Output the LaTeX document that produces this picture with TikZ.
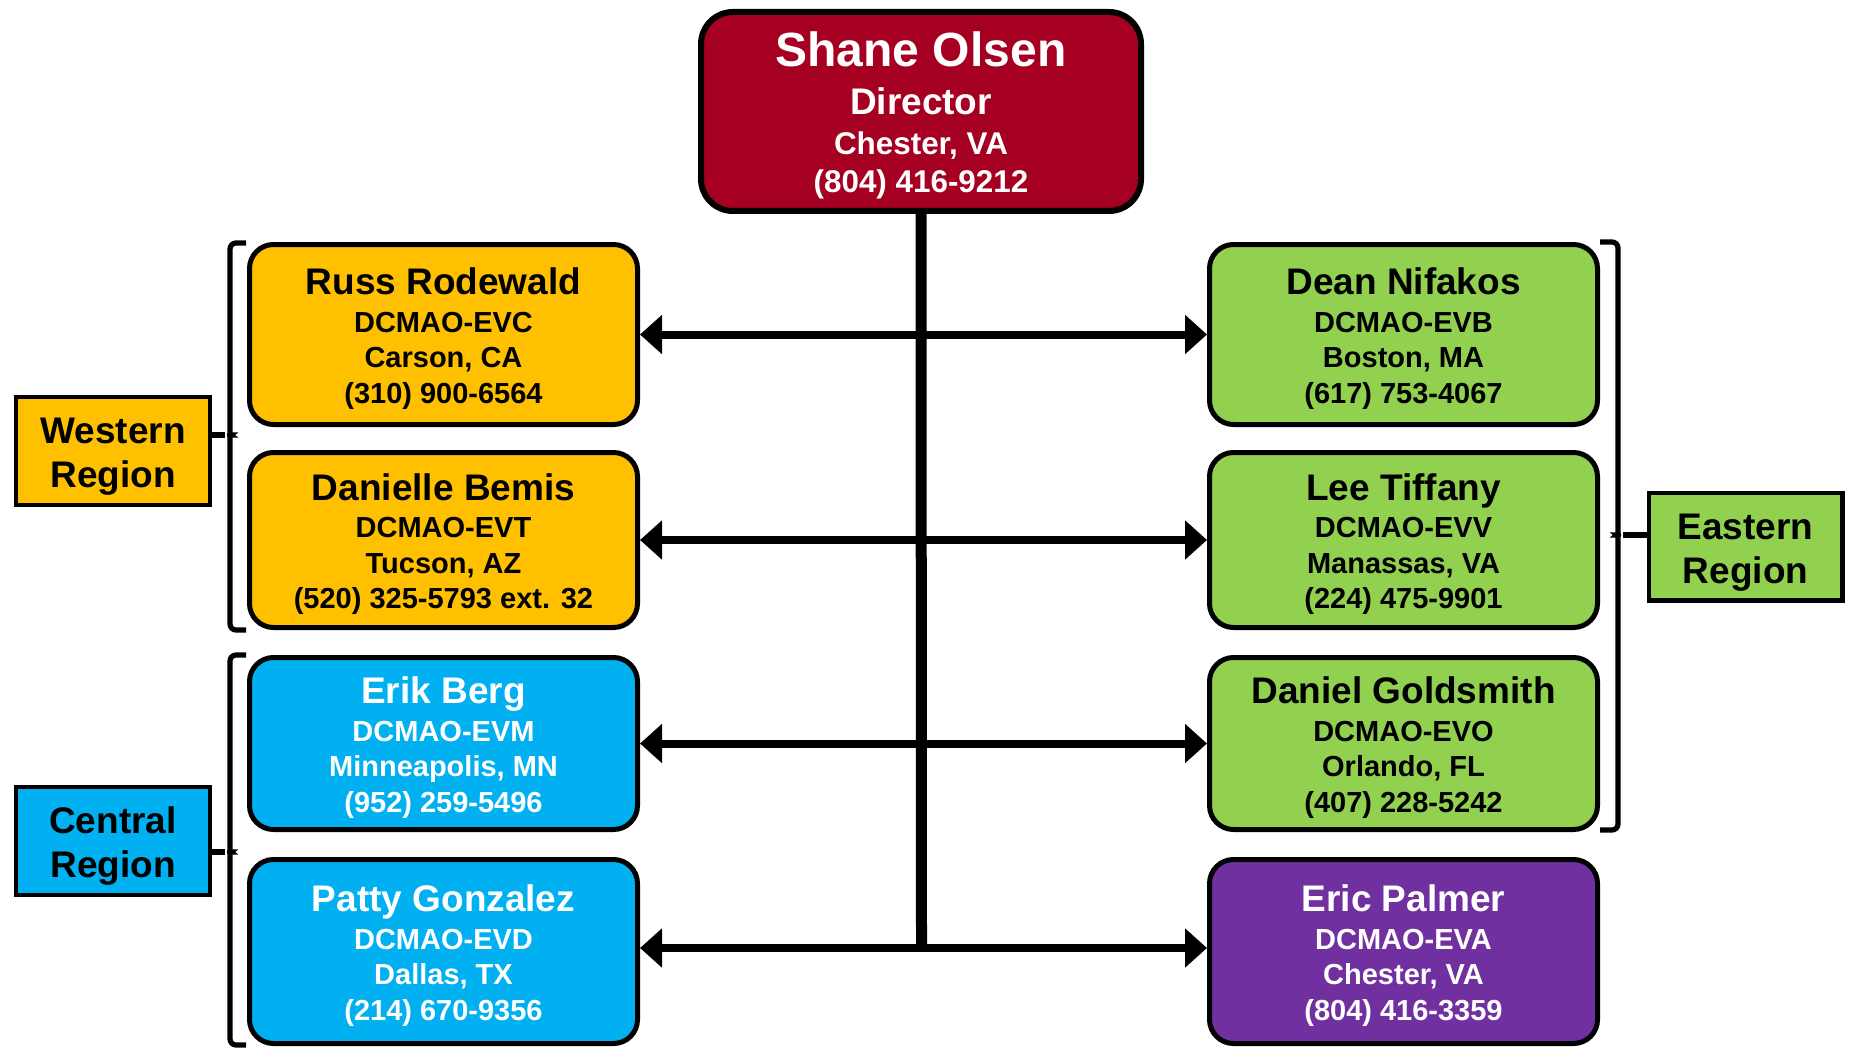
\documentclass[tikz,border=0pt]{standalone}
\usepackage{fontspec}
\setmainfont{Liberation Sans}
\usetikzlibrary{arrows.meta}
\definecolor{dirred}{HTML}{A50021}
\definecolor{offyellow}{HTML}{FFC000}
\definecolor{offblue}{HTML}{00B0F0}
\definecolor{offgreen}{HTML}{92D050}
\definecolor{offpurple}{HTML}{7030A0}
\newcommand\nmstrut{\rule{0pt}{17.5pt}}
\newcommand\rgstrut{\rule{0pt}{18.5pt}}
\newcommand\nm[1]{{\fontsize{18.5}{22}\selectfont\nmstrut #1}\\[1pt]}
\begin{document}
\begin{tikzpicture}[x=0.5pt,y=-0.5pt,
  person/.style={draw=black, line width=2.5pt, rounded corners=12pt,
    minimum width=194pt, align=center, inner sep=0pt,
    font=\bfseries\fontsize{14.5}{17.7}\selectfont},
  region/.style={draw=black, line width=2.2pt, minimum width=96.8pt,
    minimum height=53.8pt, align=center, inner sep=0pt,
    font=\bfseries\fontsize{18.5}{22}\selectfont},
  biarrow/.style={line width=4pt,
    {Triangle[length=11pt,width=19pt]}-{Triangle[length=11pt,width=19pt]}},
  trunk/.style={line width=5.5pt},
  brk/.style={line width=2.6pt, rounded corners=3pt}]
\useasboundingbox (0,0) rectangle (1850,1048);

% director
\node[draw=black, line width=3pt, rounded corners=16pt, fill=dirred,
  text=white, minimum width=220pt, minimum height=99.5pt, align=center,
  inner sep=0pt, font=\bfseries\fontsize{15.7}{19}\selectfont]
  (dir) at (921,111.5)
  {{\fontsize{24}{28}\selectfont\rule{0pt}{21.6pt}Shane Olsen}\\[5pt]
   {\fontsize{18.5}{22}\selectfont Director}\\[1pt]
   Chester, VA\\ (804) 416-9212};

% left column
\node[person, fill=offyellow, minimum height=90pt] (russ) at (443.5,334.5)
  {\nm{Russ Rodewald} DCMAO-EVC\\ Carson, CA\\ (310) 900-6564};
\node[person, fill=offyellow, minimum height=87.5pt] (danielle) at (443.5,540)
  {\nm{Danielle Bemis} DCMAO-EVT\\ Tucson, AZ\\ (520) 325-5793 ext. 32};
\node[person, fill=offblue, text=white, minimum height=86pt] (erik) at (443.5,743.5)
  {\nm{Erik Berg} DCMAO-EVM\\ Minneapolis, MN\\ (952) 259-5496};
\node[person, fill=offblue, text=white, minimum height=92pt] (patty) at (443.5,951.5)
  {\nm{Patty Gonzalez} DCMAO-EVD\\ Dallas, TX\\ (214) 670-9356};

% right column
\node[person, fill=offgreen, minimum height=90pt] (dean) at (1403.5,334.5)
  {\nm{Dean Nifakos} DCMAO-EVB\\ Boston, MA\\ (617) 753-4067};
\node[person, fill=offgreen, minimum height=87.5pt] (lee) at (1403.5,540)
  {\nm{Lee Tiffany} DCMAO-EVV\\ Manassas, VA\\ (224) 475-9901};
\node[person, fill=offgreen, minimum height=86pt] (daniel) at (1403.5,743.5)
  {\nm{Daniel Goldsmith} DCMAO-EVO\\ Orlando, FL\\ (407) 228-5242};
\node[person, fill=offpurple, text=white, minimum height=92pt] (eric) at (1403.5,951.5)
  {\nm{Eric Palmer} DCMAO-EVA\\ Chester, VA\\ (804) 416-3359};

% region labels
\node[region, fill=offyellow] (wreg) at (113,451) {\rgstrut Western\\Region};
\node[region, fill=offblue] (creg) at (113,841) {\rgstrut Central\\Region};
\node[region, fill=offgreen] (ereg) at (1745.5,546.5) {\rgstrut Eastern\\Region};

% arrows and trunk
\coordinate (tend) at (921.5,948);
\draw[biarrow] (russ.east) -- (dean.west);
\draw[biarrow] (danielle.east) -- (lee.west);
\draw[biarrow] (erik.east) -- (daniel.west);
\draw[biarrow] (patty.east |- tend) -- (eric.west |- tend);
\draw[trunk] (dir.south) -- (tend);

% brackets
\coordinate (wtip) at (225,435);
\coordinate (ctip) at (225,852);
\coordinate (etip) at (1623,535);
\draw[brk] (246,243) -- (230,243) -- (230,427)
  .. controls (230,433) and (229,435) .. (wtip)
  .. controls (229,435) and (230,437) .. (230,443) -- (230,630) -- (246,630);
\draw[brk] (246,655) -- (230,655) -- (230,844)
  .. controls (230,850) and (229,852) .. (ctip)
  .. controls (229,852) and (230,854) .. (230,860) -- (230,1045) -- (246,1045);
\draw[brk] (1600,242) -- (1618,242) -- (1618,527)
  .. controls (1618,533) and (1619,535) .. (etip)
  .. controls (1619,535) and (1618,537) .. (1618,543) -- (1618,830) -- (1600,830);
\draw[line width=2.6pt] (wreg.east |- wtip) -- (wtip);
\draw[line width=2.6pt] (creg.east |- ctip) -- (ctip);
\draw[line width=2.6pt] (ereg.west |- etip) -- (etip);
\end{tikzpicture}
\end{document}
